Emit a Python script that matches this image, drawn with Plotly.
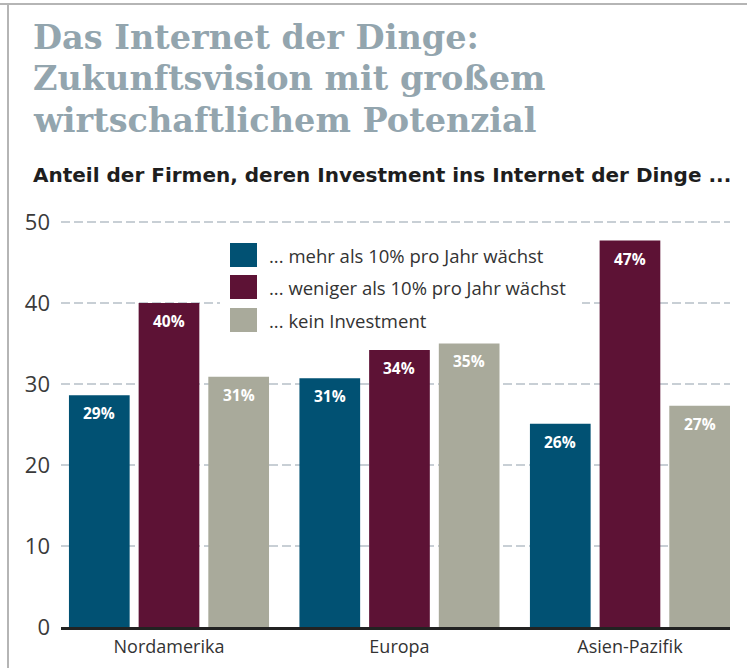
import plotly.graph_objects as go

# ---------------- data ----------------
regions = ["Nordamerika", "Europa", "Asien-Pazifik"]
series_names = [
    "... mehr als 10% pro Jahr wächst",
    "... weniger als 10% pro Jahr wächst",
    "... kein Investment",
]
mehr_10 = [28.6, 30.7, 25.1]
weniger_10 = [40.0, 34.2, 47.7]
kein_inv = [30.9, 35.0, 27.3]
labels_mehr = ["29%", "31%", "26%"]
labels_weniger = ["40%", "34%", "47%"]
labels_kein = ["31%", "35%", "27%"]
y_ticks = [0, 10, 20, 30, 40, 50]

series_values = [mehr_10, weniger_10, kein_inv]
series_labels = [labels_mehr, labels_weniger, labels_kein]
colors = ["#015173", "#5d1235", "#a9aa9b"]

title_lines = ["Das Internet der Dinge:", "Zukunftsvision mit großem",
               "wirtschaftlichem Potenzial"]
subtitle_text = "Anteil der Firmen, deren Investment ins Internet der Dinge ..."

# ---------------- layout constants ----------------
W, H = 747, 668
L, R, T, B = 61, 17, 215, 41
PW, PH = W - L - R, H - T - B
BARGAP = 0.093
BARGROUPGAP = 0.129
Y_MAX = 50.86


def px_x(x):
    return (x - L) / PW


def px_y(y):
    return (H - B - y) / PH


fig = go.Figure()
for name, vals, col in zip(series_names, series_values, colors):
    fig.add_trace(go.Bar(x=regions, y=vals, name=name, marker_color=col,
                         marker_line_width=0, showlegend=False,
                         hoverinfo="x+y"))

annotations = []
slot = (1 - BARGAP) / 3
for j, (vals, labs) in enumerate(zip(series_values, series_labels)):
    for i, (v, lab) in enumerate(zip(vals, labs)):
        annotations.append(dict(
            x=i + (j - 1) * slot, y=v, xref="x", yref="y", text=lab,
            showarrow=False, yanchor="middle", yshift=-18,
            font=dict(family="Open Sans", size=15.5, color="white", weight="bold"),
        ))

# title lines
for k, line in enumerate(title_lines):
    annotations.append(dict(
        x=px_x(31), y=px_y(37 + 41.5 * k), xref="paper", yref="paper", text=line,
        showarrow=False, xanchor="left", yanchor="middle",
        font=dict(family="DejaVu Serif", size=33.5, color="#93a5ae", weight="bold"),
    ))

# subtitle
annotations.append(dict(
    x=px_x(31), y=px_y(175), xref="paper", yref="paper", text=subtitle_text,
    showarrow=False, xanchor="left", yanchor="middle",
    font=dict(family="DejaVu Sans", size=20, color="#1e1e1e", weight="bold"),
))

shapes = []
# custom legend
shapes.append(dict(type="rect", xref="paper", yref="paper",
                   x0=px_x(220), x1=px_x(582), y0=px_y(342), y1=px_y(232),
                   fillcolor="white", line_width=0, layer="above"))
row_centers = [255, 287, 320]
for name, col, yc in zip(series_names, colors, row_centers):
    shapes.append(dict(type="rect", xref="paper", yref="paper",
                       x0=px_x(230), x1=px_x(257), y0=px_y(yc + 12), y1=px_y(yc - 12),
                       fillcolor=col, line_width=0, layer="above"))
    annotations.append(dict(
        x=px_x(267), y=px_y(yc), xref="paper", yref="paper", text=name,
        showarrow=False, xanchor="left", yanchor="middle",
        font=dict(family="Open Sans", size=18.5, color="#333333"),
    ))

# frame lines
shapes.append(dict(type="line", xref="paper", yref="paper",
                   x0=px_x(0), x1=px_x(W), y0=px_y(4), y1=px_y(4),
                   line=dict(color="#b5b5b5", width=2), layer="above"))
shapes.append(dict(type="line", xref="paper", yref="paper",
                   x0=px_x(8), x1=px_x(8), y0=px_y(4), y1=px_y(H),
                   line=dict(color="#b5b5b5", width=2), layer="above"))

fig.update_layout(
    width=W, height=H,
    margin=dict(l=L, r=R, t=T, b=B, pad=0, autoexpand=False),
    paper_bgcolor="white", plot_bgcolor="white",
    barmode="group", bargap=BARGAP, bargroupgap=BARGROUPGAP,
    xaxis=dict(type="category", range=[-0.4685, 2.434], automargin=False,
               showline=True, linecolor="#222222", linewidth=3,
               showgrid=False, ticks="", ticklabelstandoff=1,
               tickfont=dict(family="Open Sans", size=18, color="#333333")),
    yaxis=dict(range=[0, Y_MAX], tickvals=y_ticks, showline=False,
               automargin=False,
               zeroline=False, showgrid=True, gridcolor="#c8cfd5",
               gridwidth=2, griddash="9px,4px", ticks="",
               ticklabelstandoff=10,
               tickfont=dict(family="Open Sans", size=22, color="#3a3a3a")),
    annotations=annotations,
    shapes=shapes,
    showlegend=False,
)

fig.write_html("out.html")
